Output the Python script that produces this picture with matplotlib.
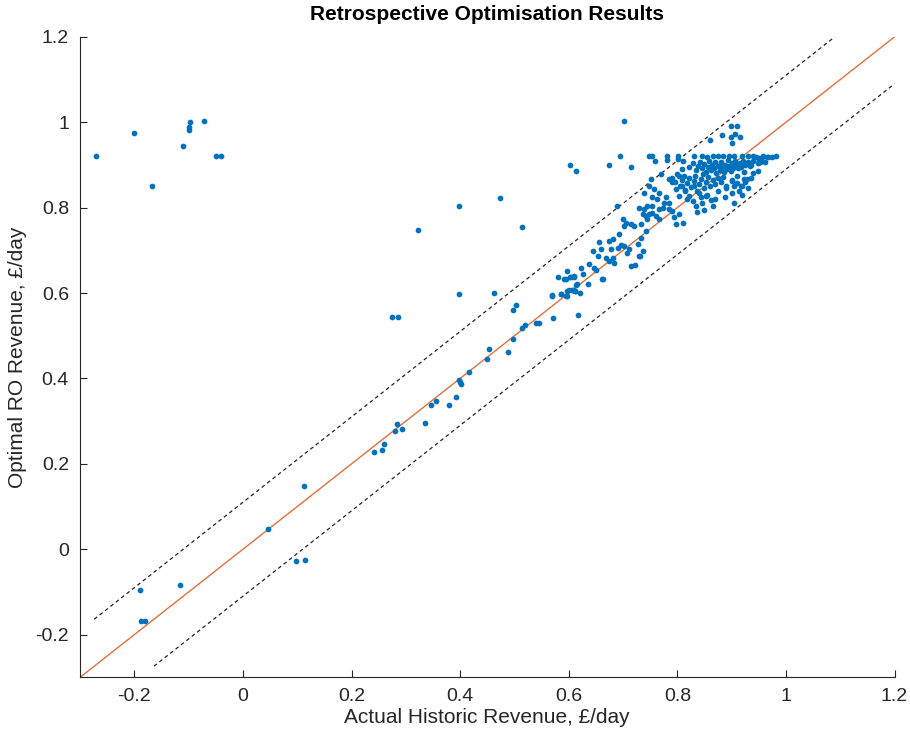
import matplotlib.pyplot as plt

plt.rcParams['font.family'] = ['Liberation Sans', 'DejaVu Sans']

# historic (x) vs optimal (y) revenue, £/day
outlier_x = [-0.27, -0.20, -0.167, -0.11, -0.100, -0.099, -0.098, -0.072, -0.049, -0.040,
             0.602, 0.614, 0.474, 0.398, 0.323, 0.513, 0.398, 0.462, 0.275, 0.285, 0.701,
             0.674, 0.694, 0.715]
outlier_y = [0.921, 0.975, 0.851, 0.944, 0.983, 0.990, 1.000, 1.004, 0.921, 0.921,
             0.900, 0.885, 0.822, 0.804, 0.747, 0.754, 0.597, 0.599, 0.543, 0.543, 1.004,
             0.901, 0.921, 0.895]

low_x = [0.581, 0.596, 0.592, 0.602, 0.609, 0.570, 0.570, 0.586, 0.596, 0.601, 0.607, 0.611,
         0.616, 0.502, 0.498, 0.571, 0.617, 0.519, 0.514, 0.539, 0.546, 0.497, 0.453, 0.488,
         0.449, 0.417, 0.397, 0.399, 0.401, 0.393, 0.379, 0.356, 0.346, 0.336, 0.284, 0.280,
         0.293, 0.259, 0.256, 0.241, 0.113, 0.047, 0.098, 0.115, -0.116, -0.189, -0.187, -0.181]
low_y = [0.638, 0.651, 0.632, 0.638, 0.638, 0.595, 0.592, 0.597, 0.593, 0.607, 0.607, 0.605,
         0.620, 0.573, 0.560, 0.542, 0.548, 0.525, 0.518, 0.530, 0.530, 0.493, 0.468, 0.461,
         0.446, 0.414, 0.396, 0.392, 0.386, 0.356, 0.338, 0.346, 0.338, 0.295, 0.293, 0.278,
         0.282, 0.246, 0.232, 0.227, 0.148, 0.047, -0.028, -0.026, -0.083, -0.096, -0.167, -0.167]

mid_x = [0.714, 0.705, 0.699, 0.721, 0.693, 0.681, 0.675, 0.656, 0.696, 0.702, 0.711, 0.708,
         0.714, 0.722, 0.730, 0.736, 0.727, 0.733, 0.742, 0.678, 0.681, 0.669, 0.674, 0.653,
         0.644, 0.638, 0.623, 0.626, 0.610, 0.604, 0.595, 0.614, 0.606, 0.612, 0.596, 0.621,
         0.586, 0.595, 0.635, 0.663, 0.647, 0.651, 0.684, 0.659, 0.690, 0.702, 0.733, 0.745,
         0.662, 0.731, 0.688]
mid_y = [0.761, 0.765, 0.773, 0.757, 0.738, 0.726, 0.722, 0.720, 0.712, 0.710, 0.702, 0.693,
         0.663, 0.665, 0.687, 0.698, 0.714, 0.730, 0.745, 0.702, 0.683, 0.683, 0.675, 0.687,
         0.698, 0.667, 0.659, 0.644, 0.640, 0.638, 0.632, 0.618, 0.606, 0.604, 0.605, 0.599,
         0.597, 0.593, 0.620, 0.632, 0.659, 0.655, 0.670, 0.704, 0.706, 0.757, 0.761, 0.773,
         0.633, 0.687, 0.804]

upper_x = [0.770, 0.751, 0.748, 0.766, 0.754, 0.763, 0.745, 0.754, 0.730, 0.739, 0.766, 0.773,
           0.736, 0.742, 0.748, 0.754, 0.760, 0.766, 0.791, 0.803, 0.794, 0.797, 0.810, 0.779,
           0.785, 0.776, 0.785, 0.785, 0.791, 0.797, 0.803, 0.809, 0.815, 0.821, 0.828, 0.803,
           0.809, 0.818, 0.831, 0.840, 0.852, 0.843, 0.834, 0.757, 0.739]
upper_y = [0.878, 0.867, 0.851, 0.835, 0.824, 0.820, 0.804, 0.804, 0.800, 0.796, 0.796, 0.800,
           0.785, 0.781, 0.785, 0.788, 0.781, 0.773, 0.792, 0.785, 0.777, 0.761, 0.763, 0.824,
           0.812, 0.812, 0.796, 0.867, 0.859, 0.843, 0.828, 0.851, 0.839, 0.828, 0.816, 0.875,
           0.890, 0.820, 0.851, 0.835, 0.828, 0.824, 0.804, 0.843, 0.835]

top_x = [0.748, 0.753, 0.758, 0.781, 0.781, 0.801, 0.801, 0.811, 0.865, 0.875, 0.896, 0.920,
         0.939, 0.951, 0.958, 0.967, 0.974, 0.981, 0.830, 0.845, 0.855, 0.885, 0.905, 0.930,
         0.945, 0.899, 0.910, 0.883, 0.899, 0.907, 0.916, 0.861, 0.900, 0.928, 0.920, 0.922,
         0.934, 0.952, 0.950, 0.966]
top_y = [0.921, 0.921, 0.910, 0.921, 0.911, 0.921, 0.914, 0.909, 0.920, 0.920, 0.920, 0.920,
         0.921, 0.917, 0.921, 0.918, 0.918, 0.921, 0.920, 0.921, 0.919, 0.921, 0.920, 0.921,
         0.919, 0.991, 0.991, 0.969, 0.965, 0.973, 0.965, 0.959, 0.952, 0.867, 0.851, 0.883,
         0.898, 0.906, 0.914, 0.918]

core_x = [0.822, 0.828, 0.834, 0.838, 0.842, 0.846, 0.850, 0.852, 0.856, 0.858, 0.862, 0.864,
          0.868, 0.870, 0.872, 0.875, 0.878, 0.880, 0.883, 0.886, 0.888, 0.891, 0.893, 0.896,
          0.898, 0.900, 0.903, 0.906, 0.908, 0.912, 0.915, 0.918, 0.921, 0.925, 0.930, 0.935,
          0.940, 0.948, 0.955, 0.962,
          0.790, 0.795, 0.800, 0.805, 0.808, 0.812, 0.815, 0.818, 0.822, 0.826, 0.830, 0.833,
          0.836, 0.840, 0.843, 0.847, 0.850, 0.853, 0.857, 0.860, 0.865, 0.870, 0.874, 0.880,
          0.885, 0.890, 0.900, 0.910, 0.905,
          0.900, 0.910, 0.918, 0.922, 0.925, 0.913, 0.900, 0.890, 0.888, 0.875, 0.870, 0.862,
          0.865, 0.855, 0.845, 0.837, 0.850, 0.930, 0.936, 0.940, 0.948, 0.920, 0.905]
core_y = [0.895, 0.905, 0.888, 0.898, 0.908, 0.892, 0.902, 0.884, 0.896, 0.910, 0.888, 0.900,
          0.892, 0.906, 0.882, 0.897, 0.889, 0.908, 0.895, 0.884, 0.900, 0.890, 0.912, 0.898,
          0.885, 0.905, 0.893, 0.910, 0.900, 0.892, 0.905, 0.895, 0.910, 0.900, 0.908, 0.900,
          0.910, 0.905, 0.910, 0.906,
          0.870, 0.860, 0.878, 0.850, 0.865, 0.875, 0.842, 0.858, 0.870, 0.848, 0.862, 0.875,
          0.840, 0.855, 0.868, 0.878, 0.845, 0.860, 0.872, 0.850, 0.865, 0.855, 0.870, 0.860,
          0.872, 0.850, 0.865, 0.875, 0.850,
          0.862, 0.857, 0.850, 0.868, 0.860, 0.840, 0.835, 0.845, 0.825, 0.840, 0.820, 0.818,
          0.805, 0.830, 0.810, 0.790, 0.795, 0.845, 0.870, 0.880, 0.885, 0.830, 0.810]

x_vals = outlier_x + low_x + mid_x + upper_x + top_x + core_x
y_vals = outlier_y + low_y + mid_y + upper_y + top_y + core_y

band = 0.11
lim = (-0.3, 1.2)
ticks = [-0.2, 0, 0.2, 0.4, 0.6, 0.8, 1, 1.2]
tick_labels = ['-0.2', '0', '0.2', '0.4', '0.6', '0.8', '1', '1.2']

fig = plt.figure(figsize=(9.1, 7.37), dpi=100)
ax = fig.add_axes([0.088, 0.081, 0.895, 0.869])

ax.plot(lim, lim, color='#E0703C', lw=1.0, zorder=2)
ax.plot([-0.274, 1.2 - band], [-0.274 + band, 1.2], color='#222222', lw=0.9,
        ls=(0, (3, 2.5)), zorder=1)
ax.plot([-0.274 + band, 1.2], [-0.274, 1.2 - band], color='#222222', lw=0.9,
        ls=(0, (3, 2.5)), zorder=1)
ax.scatter(x_vals, y_vals, s=17, color='#0072BD', linewidths=0, zorder=3)

ax.set_xlim(lim)
ax.set_ylim(lim)
ax.set_xticks(ticks)
ax.set_xticklabels(tick_labels)
ax.set_yticks(ticks)
ax.set_yticklabels(tick_labels)

for side in ['top', 'right']:
    ax.spines[side].set_visible(False)
for side in ['left', 'bottom']:
    ax.spines[side].set_color('#262626')
    ax.spines[side].set_linewidth(0.8)
ax.tick_params(direction='in', length=5, width=0.8, color='#262626',
               labelsize=14, labelcolor='#262626', pad=8)

ax.set_xlabel('Actual Historic Revenue, £/day', fontsize=15, color='#262626', labelpad=2)
ax.set_ylabel('Optimal RO Revenue, £/day', fontsize=15, color='#262626', labelpad=6)
ax.set_title('Retrospective Optimisation Results', fontsize=15, fontweight='bold', pad=12)

fig.savefig('out.png', dpi=100)
